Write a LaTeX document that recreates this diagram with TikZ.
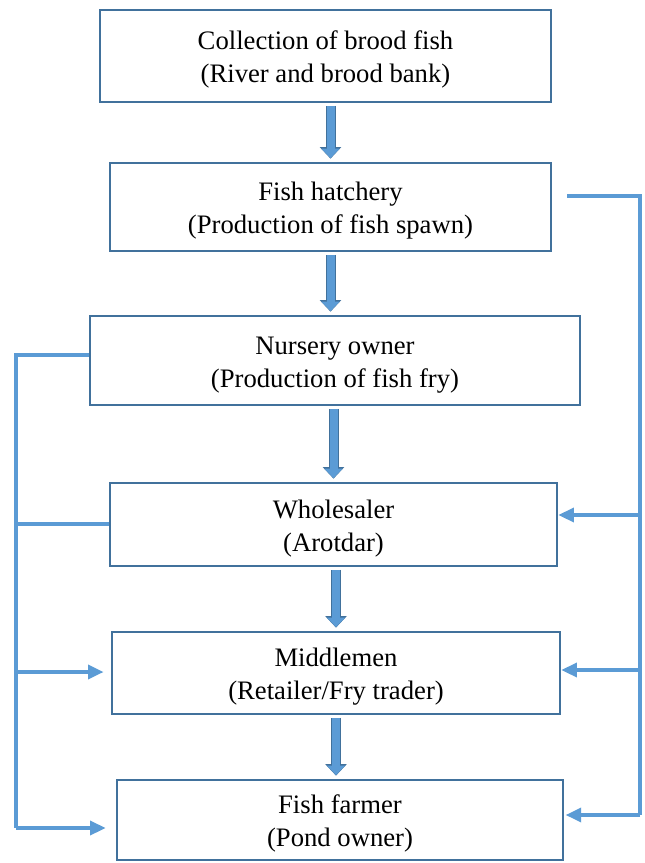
\documentclass[tikz,border=0pt]{standalone}
\usepackage{fontspec}
\setmainfont{Liberation Serif}
\usepackage{xcolor}
\usepackage{tikz}
\usetikzlibrary{arrows.meta,calc}
\definecolor{boxline}{HTML}{41719C}
\definecolor{linkblue}{HTML}{5B9BD5}
\newcommand\pxu{0.45pt}
\newcommand\topstrut{\rule{0pt}{11.8pt}}

\begin{document}
\begin{tikzpicture}[
    x=\pxu, y=-\pxu,
    stagebox/.style={rectangle, draw=boxline, line width=1.2pt, fill=white, align=center, inner sep=0pt, font=\fontsize{12}{15}\selectfont},
    flow/.style={line width=3.6pt, draw=linkblue, -{Triangle[length=4.3pt,width=8pt]}, shorten <=1.35pt, shorten >=1.6pt,
        preaction={draw=boxline, line width=4.5pt, -{Triangle[length=5.2pt,width=9.4pt]}, shorten <=1.1pt, shorten >=1.35pt}},
    link/.style={draw=linkblue, line width=1.5pt},
    linkarr/.style={link, -{Triangle[length=7pt,width=6.3pt]}},
]
\useasboundingbox (0,0) rectangle (645,863);

% Stages
\node[stagebox, minimum width=451*\pxu, minimum height=92*\pxu] (col) at (325.5,56) {\topstrut Collection of brood fish\\(River and brood bank)};
\node[stagebox, minimum width=441*\pxu, minimum height=88*\pxu] (hat) at (330.5,207) {\topstrut Fish hatchery\\(Production of fish spawn)};
\node[stagebox, minimum width=490*\pxu, minimum height=89*\pxu] (nur) at (335,360.5) {\topstrut Nursery owner\\(Production of fish fry)};
\node[stagebox, minimum width=447*\pxu, minimum height=83*\pxu] (whs) at (333.5,524.5) {\topstrut Wholesaler\\(Arotdar)};
\node[stagebox, minimum width=448*\pxu, minimum height=82*\pxu] (mid) at (336,673) {\topstrut Middlemen\\(Retailer/Fry trader)};
\node[stagebox, minimum width=446*\pxu, minimum height=80*\pxu] (frm) at (340,820) {\topstrut Fish farmer\\(Pond owner)};

% Main flow
\draw[flow] (col.south -| hat.north) -- (hat.north);
\draw[flow] (hat.south) -- (nur.north -| hat.south);
\draw[flow] (nur.south -| whs.north) -- (whs.north);
\draw[flow] (whs.south -| mid.north) -- (mid.north);
\draw[flow] (mid.south) -- (frm.north -| mid.south);

% Right bus from hatchery
\coordinate (r0) at (567,196);
\coordinate (r1) at (640,515);
\coordinate (r2) at (640,670);
\coordinate (r3) at (640,815);
\draw[link] (r0) -| (r3);
\draw[linkarr] (r1) -- (r1 -| whs.east);
\draw[linkarr] (r2) -- (r2 -| mid.east);
\draw[linkarr, shorten >=0.6pt] (r3) -- (r3 -| frm.east);

% Left bus from nursery
\coordinate (l0) at (16,355);
\coordinate (l1) at (16,524);
\coordinate (l2) at (16,672);
\coordinate (l3) at (16,828);
\draw[link] (nur.west |- l0) -- (l0) -- (l3);
\draw[link] (l1) -- (l1 -| whs.west);
\draw[linkarr, shorten >=3.2pt] (l2) -- (l2 -| mid.west);
\draw[linkarr, shorten >=4.5pt] (l3) -- (l3 -| frm.west);

\end{tikzpicture}
\end{document}
